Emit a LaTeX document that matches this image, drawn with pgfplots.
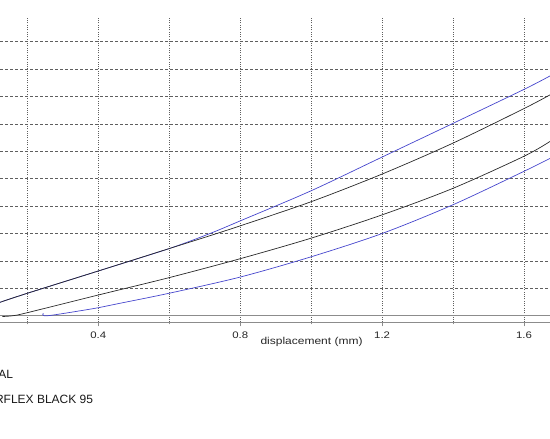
\documentclass[border=0pt]{standalone}
\usepackage{pgfplots}
\pgfplotsset{compat=1.18}
\usepackage{fontspec}
\setmainfont{Liberation Sans}
\newfontfamily\widefont[FakeStretch=1.2]{Liberation Sans}
\definecolor{lblue}{RGB}{70,70,205}
\definecolor{lblack}{RGB}{40,40,40}
\definecolor{gridc}{RGB}{95,95,95}
\definecolor{axc}{RGB}{140,140,140}
\begin{document}
\begin{tikzpicture}
\path[use as bounding box] (0pt,0pt) rectangle (550pt,439pt);
\clip (0pt,0pt) rectangle (550pt,439pt);
\begin{axis}[
  at={(0pt,116.5pt)}, anchor=south west,
  scale only axis, width=550pt, height=304.5pt,
  xmin=0.1231, xmax=1.6732, ymin=-0.248, ymax=10.865,
  axis x line*=bottom, axis y line*=left,
  x axis line style={draw=axc, line width=0.8pt},
  y axis line style={draw=none},
  xtick={0.4,0.8,1.2,1.6},
  minor xtick={0.2,0.6,1.0,1.4},
  ytick={1,2,...,10},
  yticklabels={},
  y tick style={draw=none},
  x tick style={draw=axc, line width=0.6pt},
  tick align=outside,
  major tick length=4pt,
  minor tick length=2pt,
  xmajorgrids, xminorgrids, ymajorgrids,
  major x grid style={draw=gridc, line width=0.6pt, dash pattern=on 1pt off 1.3pt},
  minor x grid style={draw=gridc, line width=0.6pt, dash pattern=on 1pt off 1.3pt},
  major y grid style={draw=gridc, line width=0.6pt, dash pattern=on 3pt off 2pt},
  /pgf/number format/assume math mode=true,
  xticklabel style={font=\widefont\fontsize{9.5}{11}\selectfont, text=black!85, anchor=base, yshift=-12.5pt},
  xlabel={displacement (mm)},
  x label style={at={(rel axis cs:0.5664,0)}, anchor=base, yshift=-22.5pt, font=\widefont\fontsize{10}{12}\selectfont, text=black!85},
  clip=true,
]
\addplot[axc, line width=0.6pt] coordinates {(0.1231,0) (1.6732,0)};
% upper blue
\addplot[lblue, line width=0.7pt, smooth] coordinates {
(0.1231,0.489) (0.2,0.818) (0.4,1.631) (0.6,2.45) (0.715,3.0) (0.8,3.46) (1.0,4.56) (1.2,5.79) (1.4,7.02) (1.6,8.26) (1.6732,8.75)};
% upper black
\addplot[lblack, line width=0.7pt, smooth] coordinates {
(0.1231,0.489) (0.2,0.818) (0.4,1.631) (0.6,2.45) (0.715,2.92) (0.8,3.28) (1.0,4.16) (1.2,5.17) (1.4,6.3) (1.6,7.56) (1.6732,8.06)};
% lower black
\addplot[lblack, line width=0.7pt, smooth] coordinates {
(0.13,-0.03) (0.16,0.0) (0.2,0.11) (0.4,0.755) (0.6,1.39) (0.8,2.08) (1.0,2.83) (1.2,3.68) (1.4,4.65) (1.6,5.82) (1.6732,6.36)};
% lower blue
\addplot[lblue, line width=0.7pt, smooth] coordinates {
(0.245,0.09) (0.258,0.0) (0.4,0.29) (0.46,0.45) (0.6,0.82) (0.8,1.41) (1.0,2.15) (1.2,3.0) (1.4,4.05) (1.6,5.27) (1.6732,5.74)};
\end{axis}
\node[anchor=base east, inner sep=0pt, font=\fontsize{12}{14}\selectfont, text=black!90] at (13.3pt,60.7pt) {ORIGINAL};
\node[anchor=base east, inner sep=0pt, font=\fontsize{12}{14}\selectfont, text=black!90] at (93.3pt,35.3pt) {SUPERFLEX BLACK 95};
\end{tikzpicture}
\end{document}
